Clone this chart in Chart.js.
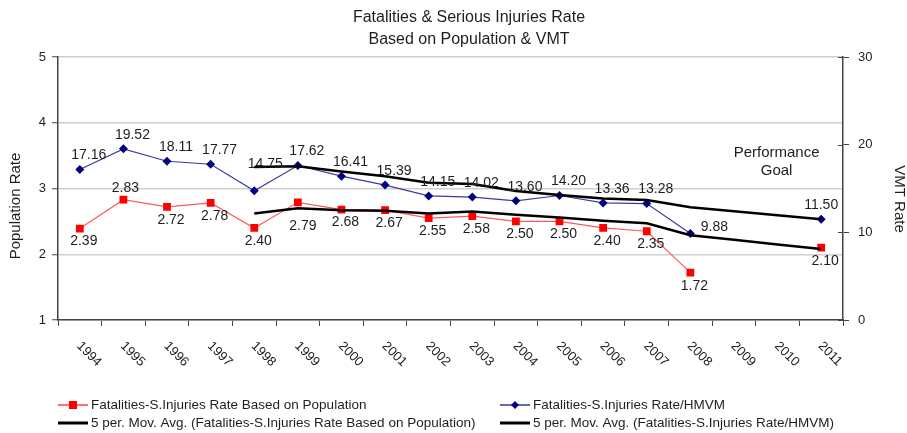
<!DOCTYPE html>
<html>
<head>
<meta charset="utf-8">
<script src="https://cdn.jsdelivr.net/npm/chart.js@4.4.1/dist/chart.umd.min.js"></script>
<style>
  html, body { margin: 0; padding: 0; background: #fff; }
  #wrap { width: 907px; height: 433px; position: relative; }
</style>
</head>
<body>
<div id="wrap"><canvas id="mainChart" width="907" height="433"></canvas></div>
<script>
const years = ['1994', '1995', '1996', '1997', '1998', '1999', '2000', '2001', '2002',
               '2003', '2004', '2005', '2006', '2007', '2008', '2009', '2010', '2011'];

// rate based on population (left axis)
const popRate = [2.39, 2.83, 2.72, 2.78, 2.40, 2.79, 2.68, 2.67, 2.55,
                 2.58, 2.50, 2.50, 2.40, 2.35, 1.72, null, null, 2.10];
// rate per HMVM (right axis)
const vmtRate = [17.16, 19.52, 18.11, 17.77, 14.75, 17.62, 16.41, 15.39, 14.15,
                 14.02, 13.60, 14.20, 13.36, 13.28, 9.88, null, null, 11.50];
// 5 period moving averages as drawn
const popAvg = [null, null, null, null, 2.62, 2.70, 2.67, 2.66, 2.62,
                2.65, 2.60, 2.56, 2.51, 2.47, 2.29, 2.22, 2.15, 2.08];
const vmtAvg = [null, null, null, null, 17.46, 17.55, 16.93, 16.39, 15.66,
                15.52, 14.71, 14.27, 13.87, 13.69, 12.86, 12.40, 11.95, 11.50];

const leftTicks = [1, 2, 3, 4, 5];
const rightTicks = [0, 10, 20, 30];

const titleLines = ['Fatalities & Serious Injuries Rate', 'Based on Population & VMT'];
const axisTitles = ['Population Rate', 'VMT Rate'];
const legendNames = [
    'Fatalities-S.Injuries Rate Based on Population',
    'Fatalities-S.Injuries Rate/HMVM',
    '5 per. Mov. Avg. (Fatalities-S.Injuries Rate Based on Population)',
    '5 per. Mov. Avg. (Fatalities-S.Injuries Rate/HMVM)'
];

const FONT = "'Liberation Sans', Arial, sans-serif";
const TEXT = '#1e1e1e';

// label nudges (pixels) for the value labels, like the hand-placed ones in the original
const redLabel = { dx: 4, dy: 13, over: { 1: [2, -12], 5: [5, 24] } };
const blueLabel = { dx: 9, dy: -14, over: { 4: [11, -27], 14: [24, -6], 17: [0, -14] } };

const extras = {
    id: 'extras',
    afterDraw(chart) {
        const ctx = chart.ctx;
        const x = chart.scales.x;
        const y = chart.scales.y;
        const y1 = chart.scales.y1;
        const area = chart.chartArea;
        ctx.save();

        // title
        ctx.fillStyle = TEXT;
        ctx.font = `16px ${FONT}`;
        ctx.textAlign = 'center';
        ctx.textBaseline = 'middle';
        ctx.fillText(titleLines[0], 469, 18);
        ctx.fillText(titleLines[1], 469, 40);

        // axis titles
        ctx.font = `15px ${FONT}`;
        ctx.save();
        ctx.translate(16, 206);
        ctx.rotate(-Math.PI / 2);
        ctx.fillText(axisTitles[0], 0, 0);
        ctx.restore();
        ctx.save();
        ctx.translate(899, 199);
        ctx.rotate(Math.PI / 2);
        ctx.fillText(axisTitles[1], 0, 0);
        ctx.restore();

        // inner half of the right axis tick marks
        ctx.strokeStyle = '#444';
        ctx.lineWidth = 1;
        rightTicks.forEach(v => {
            const py = Math.round(y1.getPixelForValue(v)) + 0.5;
            ctx.beginPath();
            ctx.moveTo(area.right - 5, py);
            ctx.lineTo(area.right, py);
            ctx.stroke();
        });

        // rotated year labels
        ctx.font = `13px ${FONT}`;
        ctx.textAlign = 'left';
        years.forEach((yr, i) => {
            const px = x.getPixelForValue(i);
            ctx.save();
            ctx.translate(px - 1, area.bottom + 24);
            ctx.rotate(Math.PI / 4);
            ctx.fillText(yr, 0, 0);
            ctx.restore();
        });

        // value labels
        ctx.font = `14px ${FONT}`;
        ctx.textAlign = 'center';
        const drawLabels = (dsIndex, values, cfg) => {
            const meta = chart.getDatasetMeta(dsIndex);
            values.forEach((v, i) => {
                if (v === null) return;
                const pt = meta.data[i];
                const o = cfg.over[i] || [cfg.dx, cfg.dy];
                ctx.fillText(v.toFixed(2), pt.x + o[0], pt.y + o[1]);
            });
        };
        drawLabels(0, popRate, redLabel);
        drawLabels(1, vmtRate, blueLabel);

        // note
        ctx.font = `15px ${FONT}`;
        const gx = x.getPixelForValue(16) - 1;
        ctx.fillText('Performance', gx, y.getPixelForValue(3.54));
        ctx.fillText('Goal', gx, y.getPixelForValue(3.27));

        // legend
        ctx.font = `13.5px ${FONT}`;
        ctx.textAlign = 'left';
        const rows = [405, 423];
        const cols = [58, 500];
        const items = [
            { c: 0, r: 0, color: '#ff4040', mark: 'rect', mc: '#ff0000', w: 1.5 },
            { c: 1, r: 0, color: '#3535a0', mark: 'diamond', mc: '#000080', w: 1.5 },
            { c: 0, r: 1, color: '#000', mark: null, w: 3 },
            { c: 1, r: 1, color: '#000', mark: null, w: 3 }
        ];
        items.forEach((it, i) => {
            const lx = cols[it.c], ly = rows[it.r];
            ctx.strokeStyle = it.color;
            ctx.lineWidth = it.w;
            ctx.beginPath();
            ctx.moveTo(lx, ly);
            ctx.lineTo(lx + 30, ly);
            ctx.stroke();
            ctx.fillStyle = it.mc;
            if (it.mark === 'rect') {
                ctx.fillRect(lx + 11, ly - 4, 8, 8);
            } else if (it.mark === 'diamond') {
                ctx.beginPath();
                ctx.moveTo(lx + 15, ly - 4);
                ctx.lineTo(lx + 19, ly);
                ctx.lineTo(lx + 15, ly + 4);
                ctx.lineTo(lx + 11, ly);
                ctx.closePath();
                ctx.fill();
            }
            ctx.fillStyle = TEXT;
            ctx.fillText(legendNames[i], lx + 33, ly);
        });

        ctx.restore();
    }
};

const ctx = document.getElementById('mainChart').getContext('2d');
new Chart(ctx, {
    type: 'line',
    data: {
        labels: years,
        datasets: [
            {
                label: legendNames[0],
                data: popRate,
                yAxisID: 'y',
                borderColor: '#ff5a5a',
                borderWidth: 1.2,
                pointStyle: 'rect',
                pointRadius: 5.5,
                pointBackgroundColor: '#ff0000',
                pointBorderColor: '#ff0000',
                pointBorderWidth: 0,
                spanGaps: false,
                order: 3
            },
            {
                label: legendNames[1],
                data: vmtRate,
                yAxisID: 'y1',
                borderColor: '#3a3aa8',
                borderWidth: 1.2,
                pointStyle: 'rectRot',
                pointRadius: 4.5,
                pointBackgroundColor: '#000080',
                pointBorderColor: '#000080',
                pointBorderWidth: 0,
                spanGaps: false,
                order: 4
            },
            {
                label: legendNames[2],
                data: popAvg,
                yAxisID: 'y',
                borderColor: '#000',
                borderWidth: 2.5,
                pointRadius: 0,
                order: 1
            },
            {
                label: legendNames[3],
                data: vmtAvg,
                yAxisID: 'y1',
                borderColor: '#000',
                borderWidth: 2.5,
                pointRadius: 0,
                order: 2
            }
        ]
    },
    options: {
        responsive: false,
        animation: false,
        layout: { padding: { top: 57, left: 0, right: 0, bottom: 0 } },
        plugins: {
            legend: { display: false },
            title: { display: false },
            tooltip: { enabled: false }
        },
        scales: {
            x: {
                offset: true,
                ticks: { display: false },
                grid: {
                    offset: true,
                    drawOnChartArea: false,
                    drawTicks: true,
                    tickLength: 6,
                    tickColor: '#444',
                    tickWidth: 1
                },
                border: { color: '#444', width: 1.5 },
                afterFit: s => { s.height = 113; }
            },
            y: {
                position: 'left',
                min: 1,
                max: 5,
                afterBuildTicks: s => { s.ticks = leftTicks.map(v => ({ value: v })); },
                ticks: { color: TEXT, font: { family: FONT, size: 13 }, padding: 6 },
                grid: { color: '#cfcfcf', lineWidth: 1.5, tickLength: 6, tickColor: '#444', tickWidth: 1 },
                border: { color: '#444', width: 1.5 },
                afterFit: s => { s.width = 58; }
            },
            y1: {
                position: 'right',
                min: 0,
                max: 30,
                afterBuildTicks: s => { s.ticks = rightTicks.map(v => ({ value: v })); },
                ticks: { color: TEXT, font: { family: FONT, size: 13 }, padding: 9 },
                grid: { drawOnChartArea: false, tickLength: 6, tickColor: '#444', tickWidth: 1 },
                border: { color: '#444', width: 1.5 },
                afterFit: s => { s.width = 64; }
            }
        }
    },
    plugins: [extras]
});
</script>
</body>
</html>
